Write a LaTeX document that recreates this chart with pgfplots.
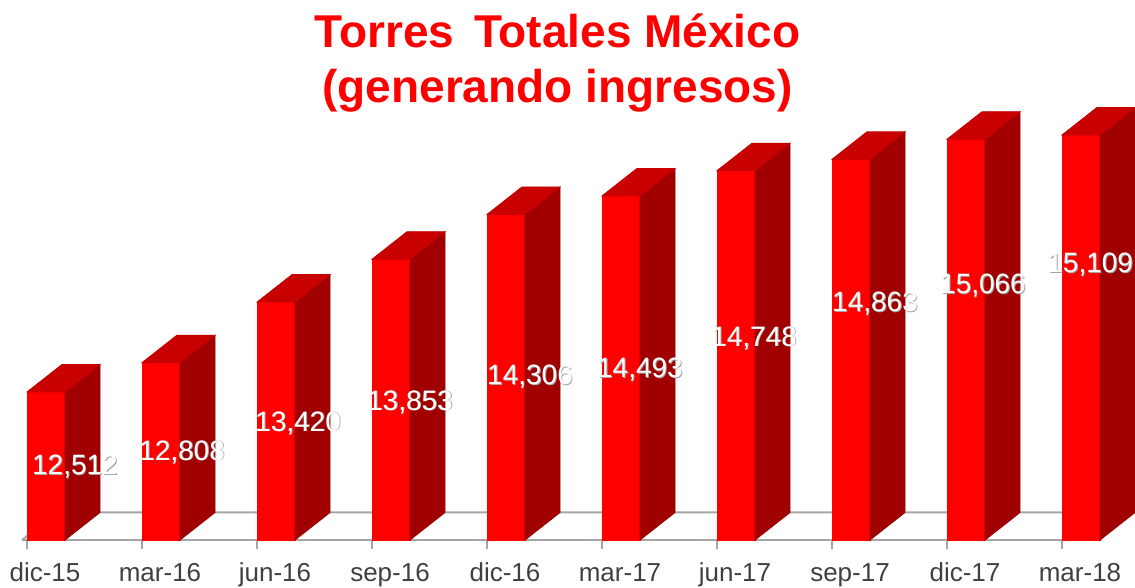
\documentclass[border=0pt]{standalone}
\usepackage{pgfplots}
\usepackage{pgfplotstable}
\pgfplotsset{compat=1.18}
\usepackage{fontspec}
\setmainfont{Liberation Sans}
\definecolor{frontc}{RGB}{255,0,0}
\definecolor{sidec}{RGB}{160,0,0}
\definecolor{topc}{RGB}{200,0,0}
\definecolor{floorc}{RGB}{165,165,165}
\definecolor{ticktext}{RGB}{64,64,64}
\definecolor{halo}{RGB}{165,165,165}

% i = category, v = value, lx/ly = position of the value label
\pgfplotstableread{
i  v      lx     ly
0  12512  0.417  11754
1  12808  1.348  11905
2  13420  2.357  12198
3  13853  3.330  12410
4  14306  4.374  12663
5  14493  5.330  12734
6  14748  6.322  13057
7  14863  7.374  13401
8  15066  8.313  13583
9  15109  9.245  13795
}\datatable

\newcommand\barbase{11016}
\newcommand\pxunit{0.04948}

\begin{document}
\begin{tikzpicture}
\useasboundingbox (0,0) rectangle (567.5pt,294pt);
\begin{axis}[
  at={(0,0)}, anchor=south west,
  scale only axis, width=567.5pt, height=294pt,
  xmin=-0.2348, xmax=9.6348, ymin=10531, ymax=16472.8,
  clip=false,
  axis line style={draw=none},
  ytick=\empty,
  xtick={0,...,9},
  xticklabels={dic-15,mar-16,jun-16,sep-16,dic-16,mar-17,jun-17,sep-17,dic-17,mar-18},
  major tick length=0pt,
  tick style={draw=none},
  xticklabel style={anchor=base, xshift=9pt, yshift=3pt, inner sep=0pt,
    font=\fontsize{13}{15}\selectfont, text=ticktext},
]
% floor
\draw[floorc, line width=1pt] (axis cs:-0.0435,11016) -- (axis cs:0.261,11294) -- (axis cs:9.635,11294);
\draw[floorc, line width=1pt] (axis cs:-0.0435,11016) -- (axis cs:9.157,11016);
\pgfplotsinvokeforeach{0,...,9}{
  \draw[floorc, line width=0.8pt] (axis cs:#1,11016) -- (axis cs:#1,10925);
}
% 3D bars
\addplot[only marks, mark=*, mark size=0pt, mark options={draw=none,fill=none},
  scatter,
  visualization depends on={\thisrow{v} \as \val},
  scatter/@pre marker code/.code={%
    \pgfmathsetmacro\H{(\val-\barbase)*\pxunit}%
    \fill[frontc] (0pt,0pt) rectangle (19pt,-\H pt);
    \fill[sidec] (19pt,0pt) -- (36.5pt,13.75pt) -- (36.5pt,13.75pt-\H pt) -- (19pt,-\H pt) -- cycle;
    \fill[topc] (0pt,0pt) -- (19pt,0pt) -- (36.5pt,13.75pt) -- (17.5pt,13.75pt) -- cycle;
  },
  scatter/@post marker code/.code={},
] table[x=i, y=v] {\datatable};
% value labels
\addplot[only marks, mark=*, mark size=0pt, mark options={draw=none,fill=none},
  scatter,
  visualization depends on={\thisrow{v} \as \val},
  scatter/@pre marker code/.code={%
    \node[inner sep=0pt, text=halo, xshift=0.45pt, yshift=-0.45pt, font=\fontsize{14}{16}\selectfont]
      at (0pt,0pt) {\pgfmathprintnumber[fixed,precision=0,1000 sep={,},assume math mode=true]{\val}};
    \node[inner sep=0pt, text=white, font=\fontsize{14}{16}\selectfont]
      at (0pt,0pt) {\pgfmathprintnumber[fixed,precision=0,1000 sep={,},assume math mode=true]{\val}};
  },
  scatter/@post marker code/.code={},
] table[x=lx, y=ly] {\datatable};
% title
\node[anchor=base, inner sep=0pt, text=red, font=\bfseries\fontsize{23}{27}\selectfont]
  at (rel axis cs:0.4912,0.920) {Torres\hspace{0.15em} Totales México};
\node[anchor=base, inner sep=0pt, text=red, font=\bfseries\fontsize{23}{27}\selectfont]
  at (rel axis cs:0.4912,0.8265) {(generando ingresos)};
\end{axis}
\end{tikzpicture}
\end{document}
